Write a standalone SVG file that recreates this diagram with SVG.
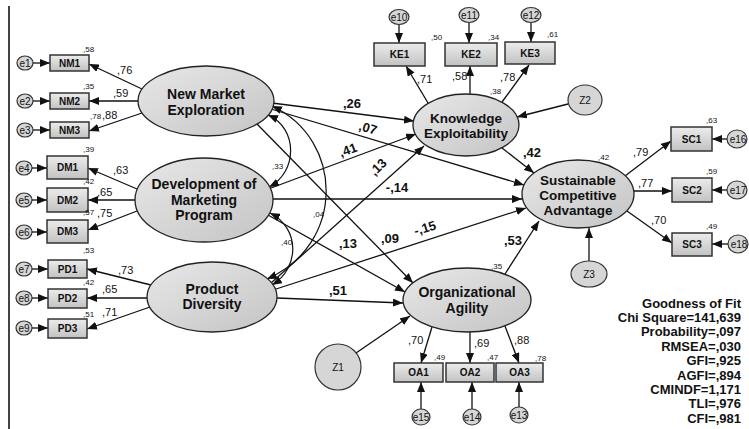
<svg xmlns="http://www.w3.org/2000/svg" width="749" height="429" viewBox="0 0 749 429">
<defs>
<linearGradient id="gBox" x1="0" y1="0" x2="0" y2="1"><stop offset="0" stop-color="#ececec"/><stop offset="1" stop-color="#c2c2c2"/></linearGradient>
<linearGradient id="gEll" x1="0" y1="0" x2="1" y2="1"><stop offset="0" stop-color="#e8e8e8"/><stop offset="1" stop-color="#c4c4c4"/></linearGradient>
<marker id="ah" markerUnits="userSpaceOnUse" markerWidth="10" markerHeight="8" refX="10" refY="4" orient="auto-start-reverse"><path d="M0,0 L10,4 L0,8 z" fill="#111"/></marker>
</defs>
<style>
.lat{fill:url(#gEll);stroke:#222;stroke-width:1.3}
.box{fill:url(#gBox);stroke:#333;stroke-width:1.5}
.err{fill:#d6d6d6;stroke:#333;stroke-width:1.2}
.c{fill:none;stroke:#111;stroke-width:1.3;marker-end:url(#ah)}
.cov{fill:none;stroke:#111;stroke-width:1.2;marker-start:url(#ah);marker-end:url(#ah)}
text{font-family:"Liberation Sans",Arial,sans-serif;fill:#111}
.lt{font-size:14px;font-weight:bold;text-anchor:middle}
.bt{font-size:10px;font-weight:bold;text-anchor:middle}
.et{font-size:10px;text-anchor:middle}
.ld{font-size:11px}
.sm{font-size:8px}
.pc{font-size:13px;font-weight:bold;text-anchor:middle}
.gof{font-size:13px;font-weight:bold;text-anchor:end}
</style>
<rect width="749" height="429" fill="#fff"/>
<line x1="9" y1="6" x2="9" y2="429" stroke="#444" stroke-width="2"/>

<g id="connectors">
<!-- measurement: NME -->
<line class="c" x1="142" y1="89" x2="89" y2="64"/>
<line class="c" x1="138" y1="101" x2="89" y2="101"/>
<line class="c" x1="142" y1="113" x2="89" y2="131"/>
<!-- DMP -->
<line class="c" x1="137" y1="189" x2="88" y2="168"/>
<line class="c" x1="135" y1="200" x2="88" y2="200"/>
<line class="c" x1="137" y1="211" x2="88" y2="230"/>
<!-- PD -->
<line class="c" x1="151" y1="285" x2="87" y2="269"/>
<line class="c" x1="147" y1="298" x2="87" y2="298"/>
<line class="c" x1="150" y1="307" x2="87" y2="329"/>
<!-- error to indicator left -->
<line class="c" x1="33" y1="63" x2="50" y2="63"/>
<line class="c" x1="33" y1="101" x2="50" y2="101"/>
<line class="c" x1="33" y1="130" x2="50" y2="130"/>
<line class="c" x1="32" y1="168" x2="47" y2="168"/>
<line class="c" x1="32" y1="200" x2="47" y2="200"/>
<line class="c" x1="32" y1="232" x2="47" y2="232"/>
<line class="c" x1="32" y1="269" x2="48" y2="269"/>
<line class="c" x1="32" y1="298" x2="48" y2="298"/>
<line class="c" x1="32" y1="328" x2="48" y2="328"/>
<!-- KE measurement -->
<line class="c" x1="428" y1="103" x2="406" y2="66"/>
<line class="c" x1="470" y1="94" x2="470" y2="66"/>
<line class="c" x1="502" y1="102" x2="529" y2="65"/>
<line class="c" x1="399" y1="25" x2="399" y2="43"/>
<line class="c" x1="469" y1="23" x2="469" y2="43"/>
<line class="c" x1="531" y1="23" x2="531" y2="42"/>
<!-- SCA measurement -->
<line class="c" x1="625" y1="176" x2="671" y2="141"/>
<line class="c" x1="634" y1="191" x2="672" y2="191"/>
<line class="c" x1="627" y1="211" x2="672" y2="243"/>
<line class="c" x1="727" y1="139" x2="712" y2="139"/>
<line class="c" x1="727" y1="190" x2="712" y2="190"/>
<line class="c" x1="728" y1="244" x2="712" y2="244"/>
<!-- OA measurement -->
<line class="c" x1="432" y1="327" x2="421" y2="363"/>
<line class="c" x1="470" y1="332" x2="470" y2="363"/>
<line class="c" x1="505" y1="326" x2="519" y2="363"/>
<line class="c" x1="421" y1="409" x2="421" y2="382"/>
<line class="c" x1="472" y1="409" x2="472" y2="382"/>
<line class="c" x1="519" y1="407" x2="519" y2="382"/>
<!-- disturbances -->
<line class="c" x1="356" y1="353" x2="410" y2="316"/>
<line class="c" x1="568" y1="104" x2="517" y2="117"/>
<line class="c" x1="589" y1="261" x2="589" y2="228"/>
<!-- structural -->
<line class="c" x1="272" y1="103" x2="414" y2="121"/>
<line class="c" x1="271" y1="109" x2="524" y2="185"/>
<line class="c" x1="257" y1="124" x2="413" y2="283"/>
<line class="c" x1="271" y1="188" x2="416" y2="134"/>
<line class="c" x1="273" y1="199" x2="522" y2="199"/>
<line class="c" x1="268" y1="215" x2="405" y2="292"/>
<line class="c" x1="271" y1="283" x2="424" y2="146"/>
<line class="c" x1="273" y1="290" x2="526" y2="208"/>
<line class="c" x1="277" y1="298" x2="403" y2="303"/>
<line class="c" x1="502" y1="148" x2="534" y2="173"/>
<line class="c" x1="505" y1="274" x2="539" y2="221"/>
<!-- covariances -->
<path class="cov" d="M268,115 C298,128 298,172 269,187"/>
<path class="cov" d="M272,106 C345,140 345,245 267,279"/>
<path class="cov" d="M270,213 C300,228 300,268 272,285"/>
<g id="coef">
<text class="pc" x="352" y="108">,26</text>
<text class="pc" x="368" y="132.5" transform="rotate(17 368 128)">,07</text>
<text class="pc" x="348" y="154.5" transform="rotate(-20 348 150)">,41</text>
<text class="pc" x="378" y="171.5" transform="rotate(-45 378 167)">,13</text>
<text class="pc" x="397" y="192">-,14</text>
<text class="pc" x="425" y="232.5" transform="rotate(-17 425 228)">-,15</text>
<text class="pc" x="390" y="243">,09</text>
<text class="pc" x="348" y="248">,13</text>
<text class="pc" x="338" y="295">,51</text>
<text class="pc" x="532" y="157">,42</text>
<text class="pc" x="513" y="245">,53</text>
<text class="sm" x="272" y="169">,33</text>
<text class="sm" x="313" y="217">,04</text>
<text class="sm" x="281" y="245">,40</text>
<text class="ld" x="117" y="74">,76</text>
<text class="ld" x="113" y="97">,59</text>
<text class="ld" x="102" y="119">,88</text>
<text class="ld" x="113" y="174">,63</text>
<text class="ld" x="97" y="196">,65</text>
<text class="ld" x="97" y="217">,75</text>
<text class="ld" x="118" y="274">,73</text>
<text class="ld" x="102" y="293">,65</text>
<text class="ld" x="102" y="316">,71</text>
<text class="ld" x="417" y="83">,71</text>
<text class="ld" x="452" y="80">,58</text>
<text class="ld" x="500" y="81">,78</text>
<text class="ld" x="633" y="156">,79</text>
<text class="ld" x="638" y="187">,77</text>
<text class="ld" x="651" y="224">,70</text>
<text class="ld" x="408" y="344">,70</text>
<text class="ld" x="474" y="347">,69</text>
<text class="ld" x="514" y="344">,88</text>
</g>
</g>

<g id="NME"><ellipse class="lat" cx="206" cy="101" rx="68" ry="35"/><text class="lt" x="206" y="99">New Market</text><text class="lt" x="206" y="115">Exploration</text></g>
<g id="DMP"><ellipse class="lat" cx="204" cy="200" rx="69" ry="42"/><text class="lt" x="204" y="189">Development of</text><text class="lt" x="204" y="205">Marketing</text><text class="lt" x="204" y="220">Program</text></g>
<g id="PD"><ellipse class="lat" cx="212" cy="297" rx="65" ry="35"/><text class="lt" x="212" y="294">Product</text><text class="lt" x="212" y="309">Diversity</text></g>
<g id="KE"><ellipse class="lat" cx="466" cy="125" rx="53" ry="31"/><text class="lt" x="466" y="123" style="font-size:13.5px">Knowledge</text><text class="lt" x="466" y="138" style="font-size:13.5px">Exploitability</text><text class="sm" x="490" y="94">,38</text></g>
<g id="SCA"><ellipse class="lat" cx="578" cy="194" rx="56" ry="34"/><text class="lt" x="578" y="185" style="font-size:13.5px">Sustainable</text><text class="lt" x="578" y="200" style="font-size:13.5px">Competitive</text><text class="lt" x="578" y="215" style="font-size:13.5px">Advantage</text><text class="sm" x="598" y="160">,42</text></g>
<g id="OA"><ellipse class="lat" cx="467" cy="300" rx="64" ry="32"/><text class="lt" x="467" y="297">Organizational</text><text class="lt" x="467" y="313">Agility</text><text class="sm" x="491" y="269">,35</text></g>

<g id="NM1"><rect class="box" x="50" y="55" width="39" height="16"/><text class="bt" x="69.5" y="66.5">NM1</text><text class="sm" x="83" y="52">,58</text></g>
<g id="NM2"><rect class="box" x="50" y="93" width="39" height="16"/><text class="bt" x="69.5" y="104.5">NM2</text><text class="sm" x="83" y="89">,35</text></g>
<g id="NM3"><rect class="box" x="50" y="122" width="39" height="16"/><text class="bt" x="69.5" y="133.5">NM3</text><text class="sm" x="90" y="119">,78</text></g>
<g id="DM1"><rect class="box" x="47" y="156" width="41" height="23"/><text class="bt" x="67.5" y="171">DM1</text><text class="sm" x="83" y="152">,39</text></g>
<g id="DM2"><rect class="box" x="47" y="188" width="41" height="24"/><text class="bt" x="67.5" y="203.5">DM2</text><text class="sm" x="83" y="184">,42</text></g>
<g id="DM3"><rect class="box" x="47" y="220" width="41" height="23"/><text class="bt" x="67.5" y="235">DM3</text><text class="sm" x="83" y="215">,57</text></g>
<g id="PD1"><rect class="box" x="48" y="260" width="39" height="18"/><text class="bt" x="67.5" y="272.5">PD1</text><text class="sm" x="83" y="253">,53</text></g>
<g id="PD2"><rect class="box" x="48" y="289" width="39" height="19"/><text class="bt" x="67.5" y="302">PD2</text><text class="sm" x="83" y="285">,42</text></g>
<g id="PD3"><rect class="box" x="48" y="319" width="39" height="19"/><text class="bt" x="67.5" y="332">PD3</text><text class="sm" x="83" y="317">,51</text></g>
<g id="KE1"><rect class="box" x="374" y="43" width="51" height="23"/><text class="bt" x="399.5" y="58">KE1</text><text class="sm" x="431" y="40">,50</text></g>
<g id="KE2"><rect class="box" x="445" y="43" width="52" height="23"/><text class="bt" x="471" y="58">KE2</text><text class="sm" x="488" y="40">,34</text></g>
<g id="KE3"><rect class="box" x="505" y="42" width="50" height="22"/><text class="bt" x="530" y="57">KE3</text><text class="sm" x="547" y="37">,61</text></g>
<g id="SC1"><rect class="box" x="671" y="127" width="41" height="24"/><text class="bt" x="691.5" y="142.5">SC1</text><text class="sm" x="706" y="123">,63</text></g>
<g id="SC2"><rect class="box" x="672" y="178" width="40" height="24"/><text class="bt" x="692" y="193.5">SC2</text><text class="sm" x="706" y="174">,59</text></g>
<g id="SC3"><rect class="box" x="672" y="233" width="40" height="23"/><text class="bt" x="692" y="248">SC3</text><text class="sm" x="706" y="229">,49</text></g>
<g id="OA1"><rect class="box" x="394" y="363" width="49" height="19"/><text class="bt" x="418.5" y="376">OA1</text><text class="sm" x="434" y="360">,49</text></g>
<g id="OA2"><rect class="box" x="446" y="363" width="48" height="19"/><text class="bt" x="470" y="376">OA2</text><text class="sm" x="487" y="360">,47</text></g>
<g id="OA3"><rect class="box" x="496" y="363" width="47" height="19"/><text class="bt" x="519.5" y="376">OA3</text><text class="sm" x="535" y="361">,78</text></g>

<g id="e1"><ellipse class="err" cx="25" cy="63" rx="8" ry="7"/><text class="et" x="25" y="66.5">e1</text></g>
<g id="e2"><ellipse class="err" cx="25" cy="101" rx="8" ry="7"/><text class="et" x="25" y="104.5">e2</text></g>
<g id="e3"><ellipse class="err" cx="25" cy="130" rx="8" ry="7"/><text class="et" x="25" y="133.5">e3</text></g>
<g id="e4"><ellipse class="err" cx="24" cy="168" rx="8" ry="7"/><text class="et" x="24" y="171.5">e4</text></g>
<g id="e5"><ellipse class="err" cx="24" cy="200" rx="8" ry="7"/><text class="et" x="24" y="203.5">e5</text></g>
<g id="e6"><ellipse class="err" cx="24" cy="232" rx="8" ry="7"/><text class="et" x="24" y="235.5">e6</text></g>
<g id="e7"><ellipse class="err" cx="24" cy="269" rx="8" ry="7"/><text class="et" x="24" y="272.5">e7</text></g>
<g id="e8"><ellipse class="err" cx="24" cy="298" rx="8" ry="7"/><text class="et" x="24" y="301.5">e8</text></g>
<g id="e9"><ellipse class="err" cx="24" cy="328" rx="8" ry="7"/><text class="et" x="24" y="331.5">e9</text></g>
<g id="e10"><ellipse class="err" cx="399" cy="17" rx="10" ry="7.5"/><text class="et" x="399" y="20.5">e10</text></g>
<g id="e11"><ellipse class="err" cx="469" cy="15" rx="10" ry="7.5"/><text class="et" x="469" y="18.5">e11</text></g>
<g id="e12"><ellipse class="err" cx="531" cy="15" rx="10" ry="7.5"/><text class="et" x="531" y="18.5">e12</text></g>
<g id="e16"><ellipse class="err" cx="737" cy="139" rx="10" ry="9"/><text class="et" x="738" y="142.5">e16</text></g>
<g id="e17"><ellipse class="err" cx="737" cy="190" rx="10" ry="9"/><text class="et" x="738" y="193.5">e17</text></g>
<g id="e18"><ellipse class="err" cx="738" cy="244" rx="10" ry="9"/><text class="et" x="739" y="247.5">e18</text></g>
<g id="e15"><ellipse class="err" cx="421" cy="417" rx="9" ry="8"/><text class="et" x="421" y="420.5">e15</text></g>
<g id="e14"><ellipse class="err" cx="472" cy="417" rx="9" ry="8"/><text class="et" x="472" y="420.5">e14</text></g>
<g id="e13"><ellipse class="err" cx="519" cy="415" rx="9" ry="8"/><text class="et" x="519" y="418.5">e13</text></g>

<g id="Z1"><ellipse class="err" cx="338" cy="367" rx="23" ry="23"/><text class="et" x="338" y="370.5">Z1</text></g>
<g id="Z2"><ellipse class="err" cx="585" cy="100" rx="17" ry="15"/><text class="et" x="585" y="103.5">Z2</text></g>
<g id="Z3"><ellipse class="err" cx="589" cy="274" rx="18" ry="13"/><text class="et" x="589" y="277.5">Z3</text></g>

<g id="gof">
<text class="gof" x="741" y="307.5">Goodness of Fit</text>
<text class="gof" x="741" y="321.9">Chi Square=141,639</text>
<text class="gof" x="741" y="336.3">Probability=,097</text>
<text class="gof" x="741" y="350.7">RMSEA=,030</text>
<text class="gof" x="741" y="365.1">GFI=,925</text>
<text class="gof" x="741" y="379.5">AGFI=,894</text>
<text class="gof" x="741" y="393.9">CMINDF=1,171</text>
<text class="gof" x="741" y="408.3">TLI=,976</text>
<text class="gof" x="741" y="422.7">CFI=,981</text>
</g>
</svg>
